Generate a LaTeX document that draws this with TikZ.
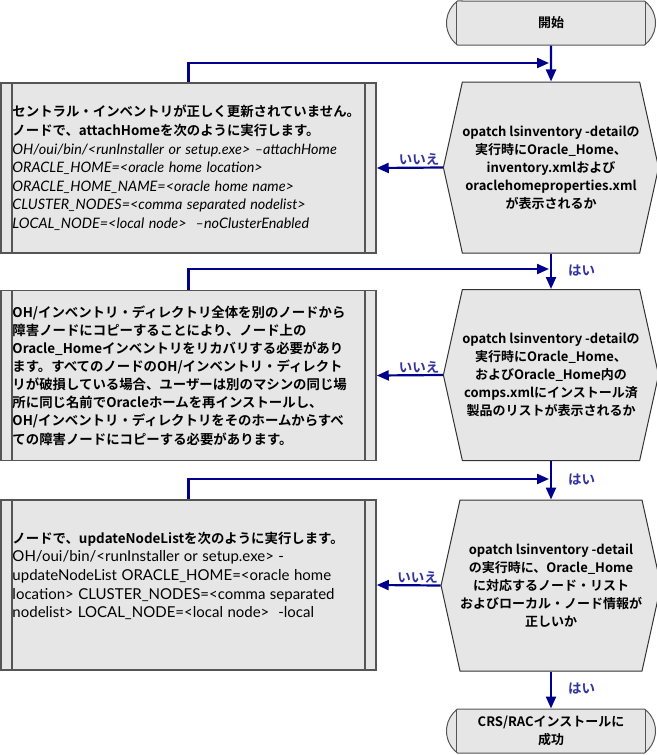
\documentclass[tikz,border=0pt]{standalone}
\usepackage{fontspec}
\usetikzlibrary{arrows.meta,shapes.misc,shapes.symbols}
\setmainfont{Noto Sans CJK JP}[BoldFont={Noto Sans CJK JP Bold}]
\newfontfamily\cmdfont{Lato}
\definecolor{boxfill}{RGB}{230,230,230}
\definecolor{boxline}{RGB}{85,85,85}
\definecolor{flowblue}{RGB}{0,0,140}
\definecolor{answerblue}{RGB}{50,50,160}
\tikzset{
  procbox/.style={rectangle, draw=boxline, fill=boxfill, line width=1.5pt,
    minimum width=375pt, minimum height=170pt, text width=352pt, inner xsep=0pt,
    align=left, font=\bfseries\fontsize{13.4}{18.6}\selectfont,
    path picture={
      \draw[boxline, line width=1.5pt] ([xshift=11pt]path picture bounding box.north west) -- ([xshift=11pt]path picture bounding box.south west);
      \draw[boxline, line width=1.5pt] ([xshift=-11pt]path picture bounding box.north east) -- ([xshift=-11pt]path picture bounding box.south east);
    }},
  decision/.style={signal, signal to=west and east, signal pointer angle=155,
    draw=black!80, fill=boxfill, line width=1pt, minimum width=206pt,
    minimum height=171pt, inner sep=0pt, align=center,
    font=\bfseries\fontsize{13}{18}\selectfont},
  terminal/.style={rounded rectangle, rounded rectangle arc length=106,
    draw=boxline, fill=boxfill, line width=1pt, minimum width=209pt,
    minimum height=44pt, inner sep=0pt, align=center,
    font=\bfseries\fontsize{13}{18}\selectfont,
    path picture={
      \draw[boxline, line width=1.5pt] ([xshift=11pt]path picture bounding box.north west) -- ([xshift=11pt]path picture bounding box.south west);
      \draw[boxline, line width=1.5pt] ([xshift=-11pt]path picture bounding box.north east) -- ([xshift=-11pt]path picture bounding box.south east);
    }},
  flow/.style={flowblue, line width=2.2pt, -{Triangle[length=12pt,width=10pt]}},
  answer/.style={answerblue, font=\bfseries\fontsize{13.5}{13.5}\selectfont, inner sep=0pt},
}
\newcommand{\cmdit}{\cmdfont\itshape\mdseries\fontsize{14.4}{19.5}\selectfont}
\newcommand{\cmdup}{\cmdfont\mdseries\fontsize{15}{18.7}\selectfont}
\begin{document}
\begin{tikzpicture}[x=1pt,y=1pt]
\useasboundingbox (0,0) rectangle (656,-755);
\node[terminal] (start) at (551,-23) {開始};
\node[decision] (q1) at (551,-167.5) {opatch lsinventory -detailの\\実行時にOracle\_Home、\\inventory.xmlおよび\\oraclehomeproperties.xml\\が表示されるか};
\node[decision] (q2) at (551,-375) {opatch lsinventory -detailの\\実行時にOracle\_Home、\\およびOracle\_Home内の\\comps.xmlにインストール済\\製品のリストが表示されるか};
\node[decision] (q3) at (551,-585.5) {opatch lsinventory -detail\\の実行時に、Oracle\_Home\\に対応するノード・リスト\\およびローカル・ノード情報が\\正しいか};
\node[terminal] (done) at (551,-731) {CRS/RACインストールに\\成功};
\node[procbox] (fix1) at (188.5,-168) {セントラル・インベントリが正しく更新されていません。\\
ノードで、attachHomeを次のように実行します。\\
{\cmdit OH/oui/bin/<runInstaller or setup.exe> –attachHome}\\
{\cmdit ORACLE\_HOME=<oracle home location>}\\
{\cmdit ORACLE\_HOME\_NAME=<oracle home name>}\\
{\cmdit CLUSTER\_NODES=<comma separated nodelist>}\\
{\cmdit LOCAL\_NODE=<local node>\ \ –noClusterEnabled}};
\node[procbox, font=\bfseries\fontsize{13.4}{18.1}\selectfont] (fix2) at (188.5,-375.5) {OH/インベントリ・ディレクトリ全体を別のノードから\\
障害ノードにコピーすることにより、ノード上の\\
Oracle\_Homeインベントリをリカバリする必要があり\\
ます。すべてのノードのOH/インベントリ・ディレクト\\
リが破損している場合、ユーザーは別のマシンの同じ場\\
所に同じ名前でOracleホームを再インストールし、\\
OH/インベントリ・ディレクトリをそのホームからすべ\\
ての障害ノードにコピーする必要があります。};
\node[procbox] (fix3) at (188.5,-585) {ノードで、updateNodeListを次のように実行します。\\
{\cmdup OH/oui/bin/<runInstaller or setup.exe> -}\\
{\cmdup updateNodeList ORACLE\_HOME=<oracle home}\\
{\cmdup location> CLUSTER\_NODES=<comma separated}\\
{\cmdup nodelist> LOCAL\_NODE=<local node>\ \ -local}\\[2pt]
\mbox{}};
\coordinate (j1) at (549,-63);
\coordinate (j2) at (549,-269);
\coordinate (j3) at (549,-479);
\draw[flow] (start) -- (q1);
\draw[flow] (fix1.north) |- (j1);
\draw[flow] (q1.west) -- (fix1.east) node[answer, pos=0.36, above=1pt] (no1) {いいえ};
\draw[flow] (q1.south) -- (q2.north) node[answer, pos=0.49, right=16pt] (yes1) {はい};
\draw[flow] (fix2.north) |- (j2);
\draw[flow] (q2.west) -- (fix2.east) node[answer, pos=0.36, above=1pt] (no2) {いいえ};
\draw[flow] (q2.south) -- (q3.north) node[answer, pos=0.49, right=16pt] (yes2) {はい};
\draw[flow] (fix3.north) |- (j3);
\draw[flow] (q3.west) -- (fix3.east) node[answer, pos=0.36, above=1pt] (no3) {いいえ};
\draw[flow] (q3.south) -- (done.north) node[answer, pos=0.46, right=16pt] (yes3) {はい};
\end{tikzpicture}
\end{document}
